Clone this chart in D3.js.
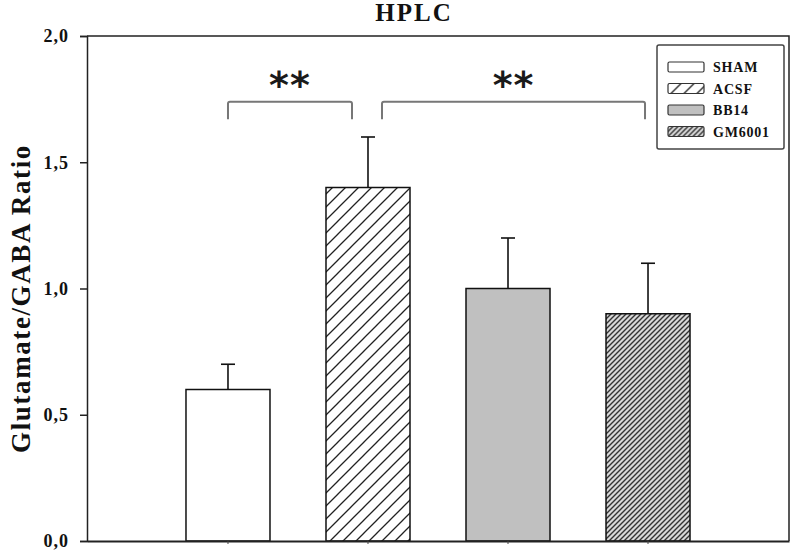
<!DOCTYPE html>
<html>
<head>
<meta charset="utf-8">
<script src="https://cdn.jsdelivr.net/npm/d3@7"></script>
<style>
  body { margin: 0; background: #fff; }
  svg { display: block; }
</style>
</head>
<body>
<div id="chart"></div>
<script>
/**
 * DATA
 * */
const groups = ["SHAM", "ACSF", "BB14", "GM6001"];
const means = [0.6, 1.4, 1.0, 0.9];
const errTops = [0.7, 1.6, 1.2, 1.1];
const yTicks = [0, 0.5, 1.0, 1.5, 2.0];
// significance brackets: from group, to group, label
const sigFrom = ["SHAM", "ACSF"];
const sigTo = ["ACSF", "GM6001"];
const sigLabels = ["**", "**"];

/**
 * CONSTANTS
 * */
const width = 792,
  height = 552,
  margin = { top: 36, bottom: 11, left: 87, right: 3 };

const serif = "'Liberation Serif', 'Times New Roman', serif";

const svg = d3.select("#chart")
  .append("svg")
  .attr("width", width)
  .attr("height", height);

const defs = svg.append("defs");

// sparse hatch for ACSF
const p1 = defs.append("pattern")
  .attr("id", "hatchWide")
  .attr("patternUnits", "userSpaceOnUse")
  .attr("width", 13).attr("height", 13);
p1.append("rect").attr("width", 13).attr("height", 13).attr("fill", "#fff");
p1.append("path")
  .attr("d", "M0,13 L13,0 M-3,3 L3,-3 M10,16 L16,10")
  .attr("stroke", "#222").attr("stroke-width", 1.3);

// dense hatch for GM6001
const p2 = defs.append("pattern")
  .attr("id", "hatchDense")
  .attr("patternUnits", "userSpaceOnUse")
  .attr("width", 5).attr("height", 5);
p2.append("rect").attr("width", 5).attr("height", 5).attr("fill", "#d8d8d8");
p2.append("path")
  .attr("d", "M0,5 L5,0 M-2,2 L2,-2 M3,7 L7,3")
  .attr("stroke", "#333").attr("stroke-width", 1.4);

const fills = {
  SHAM: "#fff",
  ACSF: "url(#hatchWide)",
  BB14: "#c0c0c0",
  GM6001: "url(#hatchDense)"
};

const x = d3.scaleBand()
  .domain(groups)
  .range([margin.left, width - margin.right])
  .paddingInner(0.4)
  .paddingOuter(0.707);

const y = d3.scaleLinear()
  .domain([0, 2])
  .range([height - margin.bottom, margin.top]);

const rows = groups.map((g, i) => ({ group: g, mean: means[i], err: errTops[i] }));

// frame (top and right)
svg.append("path")
  .attr("d", `M${margin.left},${y(2)} H${width - margin.right} V${y(0)}`)
  .attr("fill", "none")
  .attr("stroke", "#222")
  .attr("stroke-width", 1.5);

// error bars (drawn first so bar outline sits on top)
const errG = svg.append("g").attr("stroke", "#111").attr("stroke-width", 1.6);
errG.selectAll("line.stem")
  .data(rows)
  .join("line")
  .attr("class", "stem")
  .attr("x1", d => x(d.group) + x.bandwidth() / 2)
  .attr("x2", d => x(d.group) + x.bandwidth() / 2)
  .attr("y1", d => y(d.mean))
  .attr("y2", d => y(d.err));
errG.selectAll("line.cap")
  .data(rows)
  .join("line")
  .attr("class", "cap")
  .attr("x1", d => x(d.group) + x.bandwidth() / 2 - 7)
  .attr("x2", d => x(d.group) + x.bandwidth() / 2 + 7)
  .attr("y1", d => y(d.err))
  .attr("y2", d => y(d.err));

// bars
svg.append("g")
  .selectAll("rect")
  .data(rows)
  .join("rect")
  .attr("x", d => x(d.group))
  .attr("y", d => y(d.mean))
  .attr("width", x.bandwidth())
  .attr("height", d => y(0) - y(d.mean))
  .attr("fill", d => fills[d.group])
  .attr("stroke", "#111")
  .attr("stroke-width", 1.5);

// axes
const yAxis = svg.append("g")
  .attr("transform", `translate(${margin.left},0)`)
  .call(d3.axisLeft(y).tickValues(yTicks).tickSize(7).tickPadding(11)
    .tickFormat(d => d3.format(".1f")(d).replace(".", ",")));
yAxis.select(".domain").attr("stroke", "#222").attr("stroke-width", 1.5);
yAxis.selectAll(".tick line").attr("stroke", "#222").attr("stroke-width", 1.5);
yAxis.selectAll("text")
  .attr("font-family", serif)
  .attr("font-weight", "bold")
  .attr("font-size", 18)
  .attr("letter-spacing", 1)
  .attr("fill", "#111");

const xAxis = svg.append("g")
  .attr("transform", `translate(0,${y(0)})`)
  .call(d3.axisBottom(x).tickSize(3).tickSizeOuter(0).tickFormat(""));
xAxis.select(".domain").attr("stroke", "#222").attr("stroke-width", 1.8);
xAxis.selectAll(".tick line").attr("stroke", "#444");

// significance brackets
const brackets = sigFrom.map((f, i) => ({ from: f, to: sigTo[i], label: sigLabels[i] }));
const mid = g => x(g) + x.bandwidth() / 2;
const bx0 = (d, i) => mid(d.from) + (i === 0 ? 0 : 14);
const bx1 = (d, i) => mid(d.to) + (i === 0 ? -16 : -3);

svg.append("g")
  .selectAll("path")
  .data(brackets)
  .join("path")
  .attr("d", (d, i) => `M${bx0(d, i)},${y(1.67)} V${y(1.74) + 2} Q${bx0(d, i)},${y(1.74)} ${bx0(d, i) + 2},${y(1.74)} H${bx1(d, i) - 2} Q${bx1(d, i)},${y(1.74)} ${bx1(d, i)},${y(1.74) + 2} V${y(1.67)}`)
  .attr("fill", "none")
  .attr("stroke", "#777")
  .attr("stroke-width", 2);

svg.append("g")
  .selectAll("text")
  .data(brackets)
  .join("text")
  .attr("x", (d, i) => (bx0(d, i) + bx1(d, i)) / 2)
  .attr("y", y(1.755))
  .attr("text-anchor", "middle")
  .attr("font-family", "'DejaVu Sans', sans-serif")
  .attr("font-weight", "bold")
  .attr("font-size", 38)
  .attr("letter-spacing", 1)
  .attr("fill", "#1a1a1a")
  .text(d => d.label);

// title
svg.append("text")
  .attr("x", 414)
  .attr("y", 21)
  .attr("text-anchor", "middle")
  .attr("font-family", serif)
  .attr("font-weight", "bold")
  .attr("font-size", 25)
  .attr("letter-spacing", 2)
  .attr("fill", "#111")
  .text("HPLC");

// y label
svg.append("text")
  .attr("transform", `translate(30,${(y(0) + y(2)) / 2 + 10}) rotate(-90)`)
  .attr("text-anchor", "middle")
  .attr("font-family", serif)
  .attr("font-weight", "bold")
  .attr("font-size", 27)
  .attr("letter-spacing", 1.6)
  .attr("fill", "#111")
  .text("Glutamate/GABA Ratio");

// legend
const legend = svg.append("g").attr("transform", "translate(657,45)");
legend.append("rect")
  .attr("width", 127).attr("height", 104)
  .attr("rx", 2)
  .attr("fill", "#fff")
  .attr("stroke", "#444")
  .attr("stroke-width", 1.5);
const li = legend.selectAll("g.item")
  .data(groups)
  .join("g")
  .attr("class", "item")
  .attr("transform", (d, i) => `translate(11,${17 + i * 21.5})`);
li.append("rect")
  .attr("width", 36).attr("height", 10)
  .attr("rx", 1.5)
  .attr("fill", d => fills[d])
  .attr("stroke", "#333")
  .attr("stroke-width", 1.2);
li.append("text")
  .attr("x", 45)
  .attr("y", 10)
  .attr("font-family", serif)
  .attr("font-weight", "bold")
  .attr("font-size", 14)
  .attr("letter-spacing", 0.8)
  .attr("fill", "#111")
  .text(d => d);
</script>
</body>
</html>
